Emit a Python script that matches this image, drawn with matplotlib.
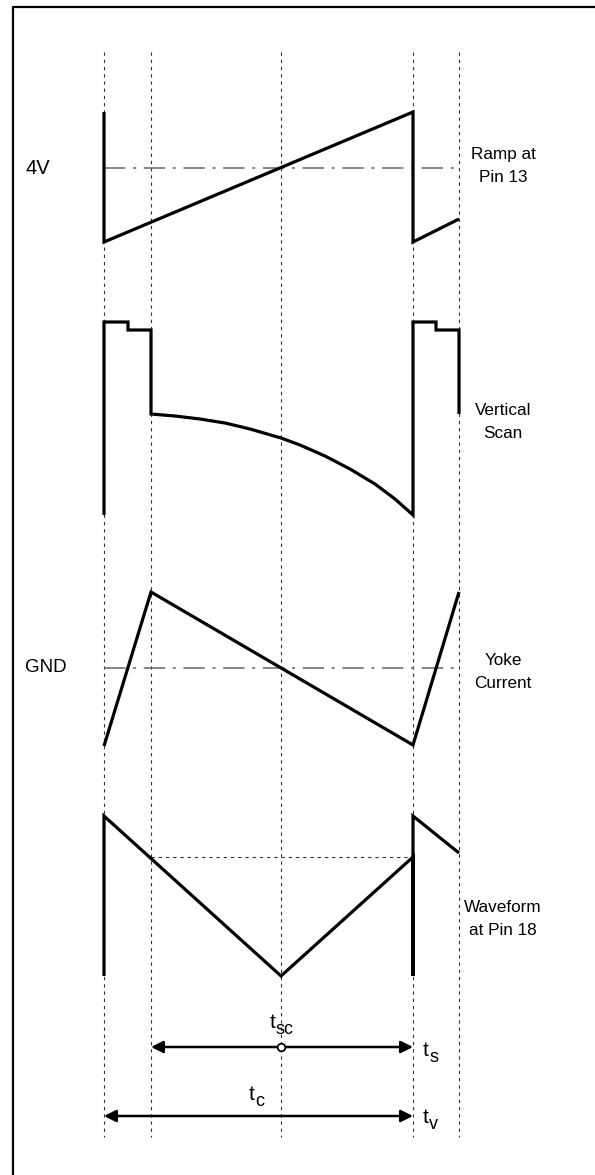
"""
Vertical deflection timing diagram.
"""

import matplotlib
matplotlib.use('Agg')
import matplotlib.pyplot as plt

plt.rcParams['font.family'] = ['Liberation Sans', 'DejaVu Sans']

# ============================================================
# 0. data (picture coordinates, y grows downward)
# ============================================================
# time markers: start, end of retrace, centre, flyback, next retrace end
t_marks = [104, 151, 281, 413, 459]

# ramp at pin 13
ramp_x = [104, 104, 413, 413, 459]
ramp_y = [112, 242, 112, 242, 219]

# vertical scan output
scan_x = [104, 104, 128, 128, 151, 151, 175, 200, 225, 250, 281, 300, 325,
          350, 375, 395, 413, 413, 436, 436, 459, 459]
scan_y = [515, 322, 322, 330, 330, 414, 416, 419, 423, 429, 438, 445, 456,
          469, 484, 499, 515, 322, 322, 330, 330, 414]

# yoke current
yoke_x = [104, 151, 413, 459]
yoke_y = [746, 592, 745, 592]

# waveform at pin 18
pin18_x = [104, 104, 281, 413, 413, 413, 459]
pin18_y = [976, 816, 976, 857, 976, 816, 853]

ref_4v = 168
ref_gnd = 668
pin18_level = 857

labels_left = ['4V', 'GND']
labels_right = ['Ramp at\nPin 13', 'Vertical\nScan', 'Yoke\nCurrent', 'Waveform\nat Pin 18']
labels_right_y = [166, 422, 672, 919]

# time span labels: (main, subscript, x, baseline y)
span_labels = [('t', 'sc', 270, 1028), ('t', 'c', 249, 1100),
               ('t', 's', 423, 1056), ('t', 'v', 423, 1123)]

# ============================================================
# figure
# ============================================================
W, H = 595, 1175
fig = plt.figure(figsize=(W / 100, H / 100), dpi=100)
ax = fig.add_axes([0, 0, 1, 1])
ax.set_xlim(0, W)
ax.set_ylim(H, 0)
ax.axis('off')

# frame (only left and top visible)
ax.plot([13, 13, W + 5], [H + 5, 7, 7], color='black', lw=1.6, solid_capstyle='butt')

# dotted time markers
for x in t_marks:
    ax.plot([x, x], [52, 1137], color='#333333', lw=0.8, linestyle=(0, (3, 3.5)))

# reference lines
for yr in [ref_4v, ref_gnd]:
    ax.plot([t_marks[0], t_marks[-1]], [yr, yr], color='#666666', lw=1.1,
            linestyle=(0, (14, 5, 2, 5)))
ax.plot([t_marks[1], t_marks[3]], [pin18_level, pin18_level], color='#333333',
        lw=0.8, linestyle=(0, (3, 3.5)))

# waveforms
wf = dict(color='black', lw=2.3, solid_joinstyle='miter', solid_capstyle='butt')
ax.plot(ramp_x, ramp_y, **wf)
ax.plot(scan_x, scan_y, **wf)
ax.plot(yoke_x, yoke_y, **wf)
ax.plot(pin18_x, pin18_y, **wf)

# labels
ax.text(26, ref_4v, labels_left[0], fontsize=14.5, va='center', ha='left')
ax.text(25, ref_gnd, labels_left[1], fontsize=13.5, va='center', ha='left')
for txt, yy in zip(labels_right, labels_right_y):
    ax.text(503, yy, txt, fontsize=12.3, va='center', ha='center', linespacing=1.6)

# time spans
arrow = dict(arrowstyle='<|-|>', color='black', lw=1.8, mutation_scale=18,
             shrinkA=0, shrinkB=0)
ax.annotate('', xy=(t_marks[1], 1047), xytext=(t_marks[3], 1047), arrowprops=arrow)
ax.annotate('', xy=(t_marks[0], 1116), xytext=(t_marks[3], 1116), arrowprops=arrow)
ax.plot([t_marks[2]], [1047], marker='o', ms=5.5, mfc='white', mec='black', mew=1.3, zorder=5)

for main, sub, xx, yy in span_labels:
    ax.text(xx, yy, main, fontsize=15, ha='left', va='baseline')
    ax.text(xx + 6, yy + 6, sub, fontsize=13, ha='left', va='baseline')

plt.savefig('out.png', dpi=100)
plt.close()
